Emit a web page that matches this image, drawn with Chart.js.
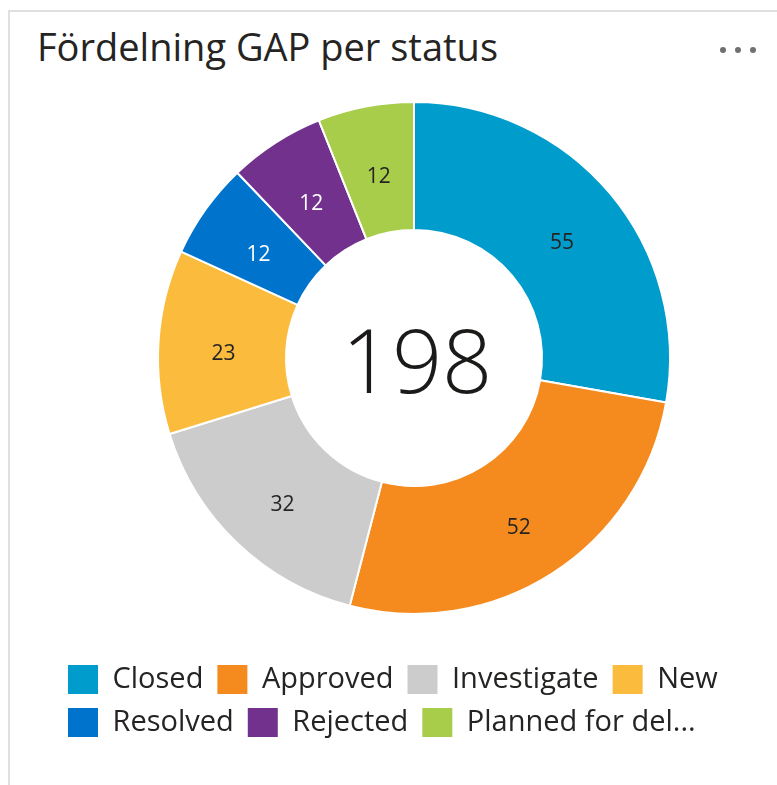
<!DOCTYPE html>
<html>
<head>
<meta charset="utf-8">
<script src="https://cdn.jsdelivr.net/npm/chart.js@4/dist/chart.umd.min.js"></script>
<style>
  html, body { margin: 0; padding: 0; background: #fff; width: 777px; height: 785px; overflow: hidden; }
  #card { position: absolute; left: 8px; top: 10px; width: 900px; height: 900px; border: 2px solid #e0e0e0; box-sizing: border-box; }
  #title { position: absolute; left: 37px; top: 27px; font-family: "Open Sans", sans-serif; font-size: 38px; line-height: 38px; color: #252423; white-space: nowrap; }
  .dot { position: absolute; top: 47px; width: 6px; height: 6px; border-radius: 50%; background: #707070; }
  #chart { position: absolute; left: 0; top: 0; }
</style>
</head>
<body>
<div id="card"></div>
<div id="title">Fördelning GAP per status</div>
<div class="dot" style="left:720px"></div>
<div class="dot" style="left:735px"></div>
<div class="dot" style="left:750px"></div>
<canvas id="chart" width="777" height="785"></canvas>
<script>
// ---- data ----
const categories = ['Closed', 'Approved', 'Investigate', 'New', 'Resolved', 'Rejected', 'Planned for del...'];
const values = [55, 52, 32, 23, 12, 12, 12];
const sliceColors = ['#009ccc', '#f58b1f', '#cccccc', '#fbbb3d', '#0074cc', '#71318c', '#a8cd4a'];
const labelColors = ['#252423', '#252423', '#252423', '#252423', '#ffffff', '#ffffff', '#252423'];

const total = values.reduce((a, b) => a + b, 0);

const sliceLabels = {
  id: 'sliceLabels',
  afterDatasetsDraw(chart) {
    const ctx = chart.ctx;
    const meta = chart.getDatasetMeta(0);
    ctx.save();
    ctx.font = '21px "Open Sans", sans-serif';
    ctx.textAlign = 'center';
    ctx.textBaseline = 'middle';
    meta.data.forEach((arc, i) => {
      const p = arc.tooltipPosition();
      ctx.fillStyle = labelColors[i];
      ctx.fillText(String(values[i]), p.x + 1, p.y + 8);
    });
    // centre total
    const a0 = meta.data[0];
    ctx.font = '300 88px "Open Sans", sans-serif';
    ctx.fillStyle = '#1b1a19';
    ctx.textBaseline = 'alphabetic';
    ctx.fillText(String(total), a0.x + 3, a0.y + 35);
    ctx.restore();
  }
};

const baseGen = Chart.overrides.doughnut.plugins.legend.labels.generateLabels;

new Chart(document.getElementById('chart'), {
  type: 'doughnut',
  data: {
    labels: categories,
    datasets: [{
      data: values,
      backgroundColor: sliceColors,
      borderColor: '#ffffff',
      borderWidth: 2,
      hoverOffset: 0
    }]
  },
  options: {
    responsive: false,
    devicePixelRatio: 1,
    animation: false,
    events: [],
    cutout: '50%',
    layout: { padding: { left: 54, right: 3, top: 101, bottom: 38 } },
    plugins: {
      tooltip: { enabled: false },
      title: { display: false },
      legend: {
        display: true,
        position: 'bottom',
        align: 'start',
        title: { display: true, text: '', padding: { top: 26, bottom: 0 }, font: { size: 10, lineHeight: 1 } },
        labels: {
          boxWidth: 30,
          boxHeight: 29,
          padding: 14,
          color: '#252423',
          font: { family: '"Open Sans", sans-serif', size: 29 },
          generateLabels(chart) {
            return baseGen(chart).map(l => Object.assign(l, { lineWidth: 0 }));
          }
        }
      }
    }
  },
  plugins: [sliceLabels]
});
</script>
</body>
</html>
